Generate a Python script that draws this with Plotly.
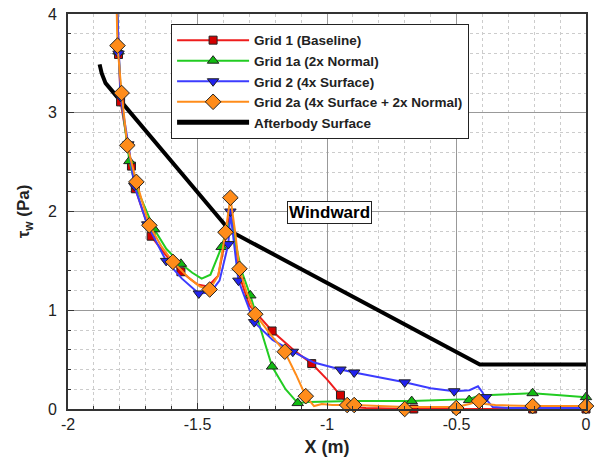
import plotly.graph_objects as go

# ---------------- data ----------------
# Afterbody surface (black)
surf_x = [-1.878, -1.870, -1.855, -1.373, -0.410, 0.0]
surf_y = [3.49, 3.40, 3.30, 1.80, 0.45, 0.45]

# Grid 1 (Baseline) - red
g1_x = [-1.815, -1.805, -1.797, -1.755, -1.740, -1.679, -1.620, -1.564, -1.500, -1.460, -1.420,
        -1.392, -1.373, -1.355, -1.338, -1.300, -1.212, -1.130, -1.059, -1.000, -0.948, -0.910,
        -0.850, -0.665, -0.206, 0.0]
g1_y = [4.40, 3.59, 3.11, 2.46, 2.23, 1.75, 1.55, 1.39, 1.26, 1.24, 1.35,
        1.72, 2.00, 1.75, 1.35, 1.05, 0.79, 0.60, 0.46, 0.30, 0.14, 0.02,
        0.01, 0.00, 0.00, 0.00]
g1_mx = [-1.805, -1.797, -1.755, -1.740, -1.679, -1.564, -1.212, -1.059, -0.948, -0.665, -0.500, -0.206, 0.0]
g1_my = [3.59, 3.11, 2.46, 2.23, 1.75, 1.39, 0.79, 0.46, 0.14, 0.00, 0.00, 0.00, 0.00]

# Grid 1a (2x Normal) - green
g1a_x = [-1.815, -1.805, -1.795, -1.763, -1.740, -1.667, -1.620, -1.564, -1.520, -1.484, -1.450,
         -1.407, -1.383, -1.370, -1.355, -1.330, -1.296, -1.260, -1.212, -1.160, -1.113, -1.070,
         -0.900, -0.673, -0.500, -0.451, -0.420, -0.390, -0.300, -0.206, -0.100, 0.0]
g1a_y = [4.40, 3.62, 3.15, 2.51, 2.27, 1.82, 1.62, 1.47, 1.38, 1.32, 1.36,
         1.64, 1.85, 1.92, 1.70, 1.40, 1.15, 0.85, 0.43, 0.20, 0.06, 0.07,
         0.08, 0.08, 0.10, 0.10, 0.13, 0.14, 0.15, 0.16, 0.14, 0.12]
g1a_mx = [-1.805, -1.763, -1.667, -1.564, -1.407, -1.296, -1.212, -1.113, -0.673, -0.451, -0.206, 0.0]
g1a_my = [3.62, 2.51, 1.82, 1.47, 1.64, 1.15, 0.43, 0.06, 0.08, 0.09, 0.16, 0.12]

# Grid 2 (4x Surface) - blue
g2_x = [-1.815, -1.805, -1.797, -1.767, -1.744, -1.694, -1.621, -1.560, -1.495, -1.450, -1.415,
        -1.381, -1.373, -1.360, -1.342, -1.281, -1.210, -1.132, -1.050, -0.948, -0.895, -0.700,
        -0.600, -0.509, -0.450, -0.417, -0.400, -0.386, -0.360, -0.300, 0.0]
g2_y = [4.40, 3.60, 3.16, 2.68, 2.26, 1.87, 1.50, 1.32, 1.17, 1.18, 1.30,
        1.67, 2.00, 1.70, 1.30, 0.88, 0.70, 0.58, 0.47, 0.40, 0.37, 0.27,
        0.21, 0.18, 0.19, 0.23, 0.17, 0.10, 0.02, 0.01, 0.01]
g2_mx = [-1.805, -1.797, -1.767, -1.744, -1.694, -1.621, -1.495, -1.381, -1.373, -1.342, -1.281,
         -1.132, -0.948, -0.895, -0.700, -0.509, -0.386, 0.0]
g2_my = [3.60, 3.16, 2.68, 2.26, 1.87, 1.50, 1.17, 1.67, 2.00, 1.30, 0.88,
         0.58, 0.40, 0.37, 0.27, 0.18, 0.12, 0.01]

# Grid 2a (4x Surface + 2x Normal) - orange
g2a_x = [-1.815, -1.809, -1.793, -1.771, -1.736, -1.686, -1.640, -1.595, -1.530, -1.490, -1.453,
         -1.420, -1.392, -1.373, -1.355, -1.338, -1.310, -1.277, -1.220, -1.163, -1.120, -1.082,
         -1.050, -1.020, -0.980, -0.922, -0.895, -0.700, -0.501, -0.450, -0.413, -0.390, -0.350,
         -0.206, 0.0]
g2a_y = [4.40, 3.68, 3.20, 2.67, 2.30, 1.86, 1.65, 1.49, 1.32, 1.24, 1.21,
         1.35, 1.79, 2.14, 1.80, 1.42, 1.18, 0.96, 0.76, 0.58, 0.35, 0.13,
         0.03, 0.05, 0.04, 0.04, 0.04, 0.02, 0.02, 0.05, 0.08, 0.05, 0.04,
         0.03, 0.03]
g2a_mx = [-1.809, -1.793, -1.771, -1.736, -1.686, -1.595, -1.453, -1.392, -1.373, -1.338, -1.277,
          -1.163, -1.082, -0.922, -0.895, -0.700, -0.501, -0.413, -0.206, 0.0]
g2a_my = [3.68, 3.20, 2.67, 2.30, 1.86, 1.49, 1.21, 1.79, 2.14, 1.42, 0.96,
          0.58, 0.13, 0.04, 0.04, 0.00, 0.01, 0.08, 0.03, 0.03]

names = ["Grid 1 (Baseline)", "Grid 1a (2x Normal)", "Grid 2 (4x Surface)",
         "Grid 2a (4x Surface + 2x Normal)", "Afterbody Surface"]

x_tickvals = [-2, -1.5, -1, -0.5, 0]
x_ticktext = ["-2", "-1.5", "-1", "-0.5", "0"]

# ---------------- figure ----------------
fig = go.Figure()

fig.add_trace(go.Scatter(x=surf_x, y=surf_y, mode="lines",
                         line=dict(color="black", width=4), showlegend=False, hoverinfo="skip"))

series = [
    (g1_x, g1_y, g1_mx, g1_my, "#ee1c1c", "#d40000", "square", 8),
    (g1a_x, g1a_y, g1a_mx, g1a_my, "#22cc22", "#11bb11", "triangle-up", 10),
    (g2_x, g2_y, g2_mx, g2_my, "#3c3cff", "#2222ee", "triangle-down", 10),
    (g2a_x, g2a_y, g2a_mx, g2a_my, "#ff8c1a", "#ff8c1a", "diamond", 12),
]
for x, y, mx, my, lc, fc, sym, sz in series:
    fig.add_trace(go.Scatter(x=x, y=y, mode="lines", line=dict(color=lc, width=2),
                             showlegend=False, hoverinfo="skip"))
    fig.add_trace(go.Scatter(x=mx, y=my, mode="markers", cliponaxis=False,
                             marker=dict(symbol=sym, size=sz, color=fc,
                                         line=dict(color="#222", width=1)),
                             showlegend=False))

# legend entries
for (x, y, mx, my, lc, fc, sym, sz), nm in zip(series, names[:4]):
    fig.add_trace(go.Scatter(x=[None], y=[None], mode="lines+markers", name=nm,
                             line=dict(color=lc, width=2),
                             marker=dict(symbol=sym, size=sz, color=fc,
                                         line=dict(color="#222", width=1))))
fig.add_trace(go.Scatter(x=[None], y=[None], mode="lines", name=names[4],
                         line=dict(color="black", width=5)))

axis_common = dict(
    showline=True, linecolor="#333", linewidth=2, mirror=True,
    showgrid=True, gridcolor="#999", gridwidth=1,
    ticks="inside", ticklen=6, tickcolor="#333",
    zeroline=False,
    tickfont=dict(family="Arial, Liberation Sans", size=16, color="#222"),
)
fig.update_xaxes(range=[-2, 0], tickvals=x_tickvals, ticktext=x_ticktext,
                 minor=dict(dtick=0.1, showgrid=True, gridcolor="#ccc", griddash="dot",
                            ticks="inside", ticklen=3, tickcolor="#333"),
                 title=dict(text="X (m)", standoff=8,
                            font=dict(family="Arial, Liberation Sans", size=18, weight="bold", color="#222")),
                 **axis_common)
fig.update_yaxes(range=[0, 4], dtick=1, tick0=0,
                 minor=dict(dtick=0.2, showgrid=True, gridcolor="#ccc", griddash="dot",
                            ticks="inside", ticklen=3, tickcolor="#333"),
                 ticklabelstandoff=6,
                 title=dict(text="τ<sub>w</sub> (Pa)", standoff=14,
                            font=dict(family="Arial, Liberation Sans", size=17, weight="bold", color="#222")),
                 **axis_common)

fig.add_annotation(x=-0.99, y=1.99, text="Windward", showarrow=False,
                   font=dict(family="Arial, Liberation Sans", size=17, weight="bold", color="black"),
                   bgcolor="white", bordercolor="#222", borderwidth=1, borderpad=1)

fig.update_layout(
    width=595, height=458,
    margin=dict(l=68, r=4, t=14, b=47),
    plot_bgcolor="white", paper_bgcolor="white",
    legend=dict(x=0.199, y=0.975, xanchor="left", yanchor="top",
                bgcolor="white", bordercolor="#222", borderwidth=1,
                font=dict(family="Arial, Liberation Sans", size=13.5, weight="bold", color="#222"),
                itemwidth=72, tracegroupgap=0),
    showlegend=True,
)

fig.write_html("out.html")
